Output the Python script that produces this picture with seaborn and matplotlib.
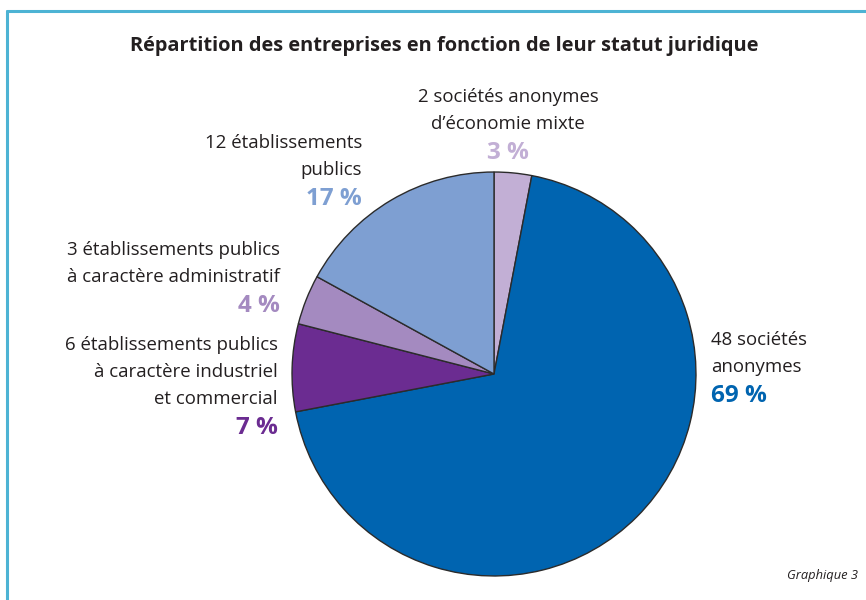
import matplotlib.pyplot as plt
import seaborn as sns

# data (clockwise from the top)
counts = [2, 48, 6, 3, 12]
names = [
    "sociétés anonymes\nd’économie mixte",
    "sociétés\nanonymes",
    "établissements publics\nà caractère industriel\net commercial",
    "établissements publics\nà caractère administratif",
    "établissements\npublics",
]
shares = [3, 69, 7, 4, 17]
colors = ["#c2afd5", "#0064b0", "#6b2c91", "#a48ac0", "#7e9fd2"]

sns.set_theme(style="white")
plt.rcParams["font.family"] = ["Open Sans", "DejaVu Sans"]

W, H = 866, 600
fig = plt.figure(figsize=(W / 100, H / 100), dpi=100)


def px(x, y):
    return x / W, 1 - y / H


# pie centred at (494, 374) px, radius 204 px
cx, cy, r = 494, 374, 204
ax = fig.add_axes([(cx - r) / W, 1 - (cy + r) / H, 2 * r / W, 2 * r / H])
ax.pie(
    shares,
    colors=colors,
    startangle=90,
    counterclock=False,
    radius=1,
    wedgeprops=dict(edgecolor="#2b2b2b", linewidth=1.0),
)
ax.set_xlim(-1.01, 1.01)
ax.set_ylim(-1.01, 1.01)
ax.axis("off")

# frame
fig.add_artist(plt.Line2D([7 / W, 7 / W], [0, 1 - 11 / H], transform=fig.transFigure,
                          color="#4db3d4", lw=2.2))
fig.add_artist(plt.Line2D([7 / W, 1], [1 - 11 / H, 1 - 11 / H], transform=fig.transFigure,
                          color="#4db3d4", lw=2.2))

fig.text(*px(444, 46), "Répartition des entreprises en fonction de leur statut juridique",
         ha="center", va="center", fontsize=14.4, fontweight="bold", color="#231f20")

# label anchors: (x, y of first line, alignment)
anchors = [
    (508, 97, "center"),
    (711, 340, "left"),
    (278, 345, "right"),
    (280, 250, "right"),
    (362, 143, "right"),
]
step = 27
for n, name, s, c, (x, y, ha) in zip(counts, names, shares, colors, anchors):
    lines = f"{n} {name}".split("\n")
    for i, line in enumerate(lines):
        fig.text(*px(x, y + i * step), line, ha=ha, va="center",
                 fontsize=13.4, color="#231f20")
    fig.text(*px(x, y + len(lines) * step + 2), f"{s} %", ha=ha, va="center",
             fontsize=17.5, fontweight="bold", color=c)

fig.text(*px(858, 575), "Graphique 3", ha="right", va="center",
         fontsize=9.3, style="italic", color="#231f20")

fig.savefig("out.png", dpi=100)
